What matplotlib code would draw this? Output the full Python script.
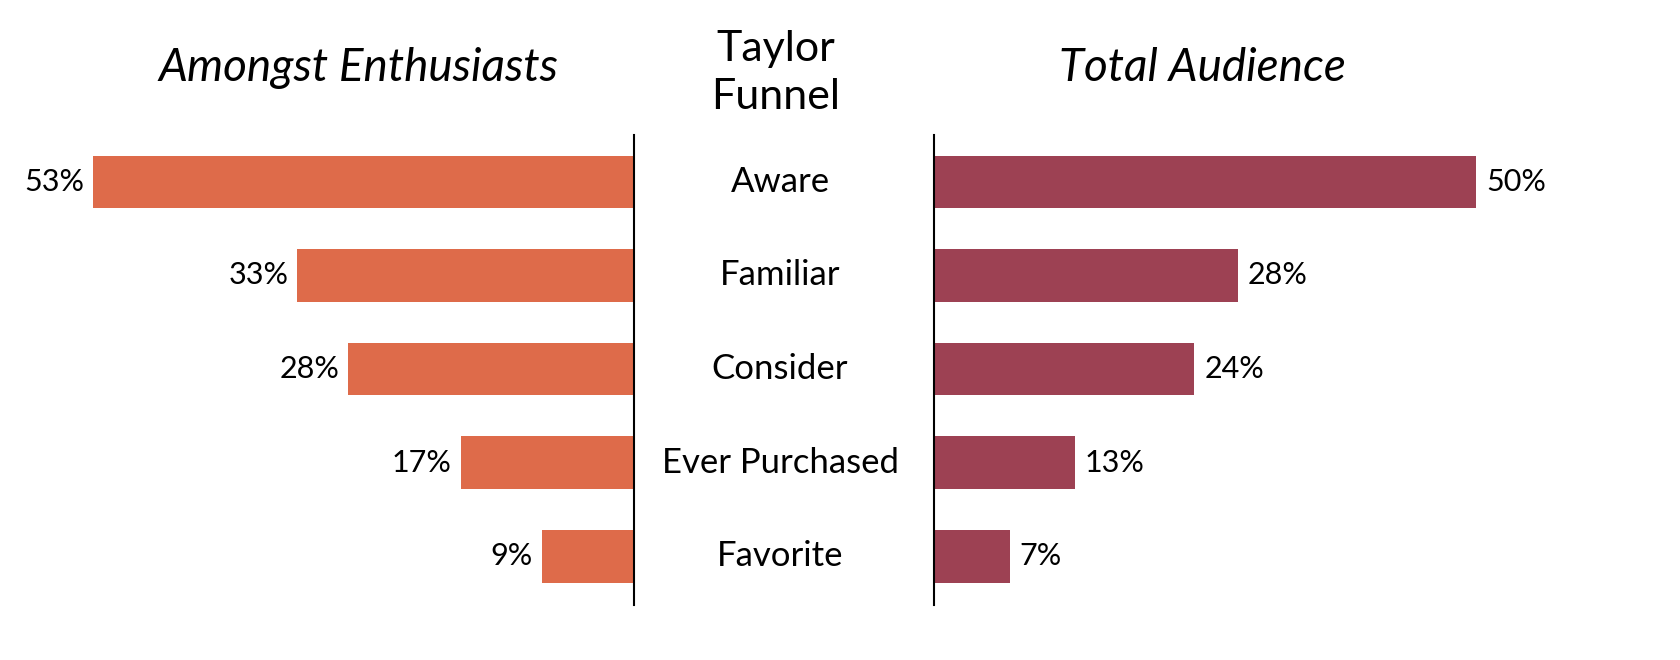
import matplotlib
matplotlib.use('Agg')
import matplotlib.pyplot as plt

stages = ['Aware', 'Familiar', 'Consider', 'Ever Purchased', 'Favorite']
enthusiasts = [53, 33, 28, 17, 9]
total_audience = [50, 28, 24, 13, 7]

ORANGE = '#DE6B4A'
MAROON = '#9D4153'
plt.rcParams['font.family'] = ['Lato', 'DejaVu Sans']
plt.rcParams['text.color'] = 'black'

W, H = 1681, 660
fig = plt.figure(figsize=(W / 100, H / 100), dpi=100)

def px_box(x0, x1, y0, y1):
    # pixel rectangle (top-left origin) -> figure fraction
    return [x0 / W, 1 - y1 / H, (x1 - x0) / W, (y1 - y0) / H]

ax_l = fig.add_axes(px_box(0, 634, 135, 605))
ax_r = fig.add_axes(px_box(934, 1681, 135, 605))

ypos = list(range(len(stages)))
bh = 0.56

ax_l.barh(ypos, enthusiasts, height=bh, color=ORANGE)
ax_r.barh(ypos, total_audience, height=bh, color=MAROON)

ax_l.set_xlim(634 / 10.2, 0)
ax_r.set_xlim(0, 747 / 10.85)
for ax in (ax_l, ax_r):
    ax.set_ylim(4.52, -0.5)
    ax.set_xticks([])
    ax.set_yticks([])
    for s in ('top', 'bottom', 'left', 'right'):
        ax.spines[s].set_visible(False)

ax_l.spines['right'].set_visible(True)
ax_l.spines['right'].set_linewidth(1.5)
ax_r.spines['left'].set_visible(True)
ax_r.spines['left'].set_linewidth(1.5)

for y, v in zip(ypos, enthusiasts):
    ax_l.text(v + 0.9, y, f'{v}%', ha='right', va='center', fontsize=22)
for y, v in zip(ypos, total_audience):
    ax_r.text(v + 0.9, y, f'{v}%', ha='left', va='center', fontsize=22)

# center stage names
for y, name in zip(ypos, stages):
    ax_l.annotate(name, xy=(0, y), xycoords=('axes fraction', 'data'),
                  xytext=(780, 0), textcoords='offset pixels',
                  ha='center', va='center', fontsize=25)

fig.text(358 / W, 1 - 68 / H, 'Amongst Enthusiasts', ha='center', va='center',
         fontsize=33, style='italic')
fig.text(1202 / W, 1 - 68 / H, 'Total Audience', ha='center', va='center',
         fontsize=33, style='italic')
fig.text(776 / W, 1 - 73 / H, 'Taylor\nFunnel', ha='center', va='center',
         fontsize=31, linespacing=1.35)

fig.savefig('out.png', dpi=100)
